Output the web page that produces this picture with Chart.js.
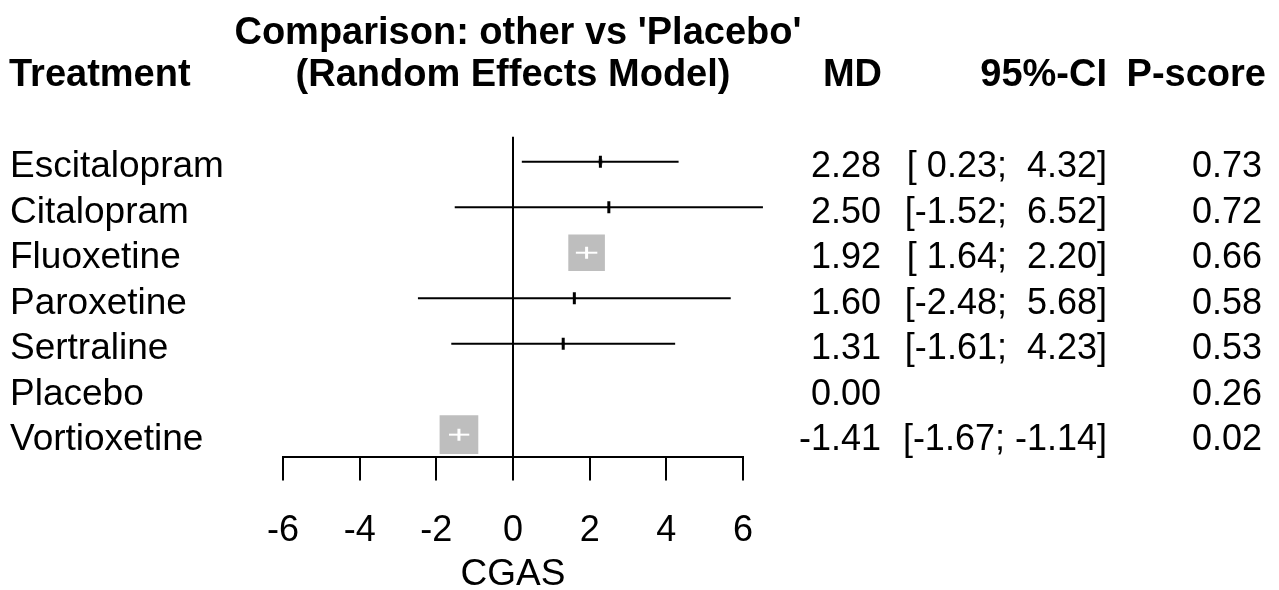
<!DOCTYPE html>
<html>
<head>
<meta charset="utf-8">
<script src="https://cdn.jsdelivr.net/npm/chart.js@4.4.0/dist/chart.umd.min.js"></script>
<style>
  html, body { margin: 0; padding: 0; background: #fff; overflow: hidden; }
  #wrap { width: 1279px; height: 590px; }
</style>
</head>
<body>
<div id="wrap"><canvas id="chart" width="1279" height="590"></canvas></div>
<script>
// Network meta-analysis forest plot, other vs 'Placebo', random effects.
const treatments = ["Escitalopram", "Citalopram", "Fluoxetine", "Paroxetine", "Sertraline", "Placebo", "Vortioxetine"];
const md = [2.28, 2.50, 1.92, 1.60, 1.31, 0.00, -1.41];
const ciLow = [0.23, -1.52, 1.64, -2.48, -1.61, null, -1.67];
const ciHigh = [4.32, 6.52, 2.20, 5.68, 4.23, null, -1.14];
const pScore = [0.73, 0.72, 0.66, 0.58, 0.53, 0.26, 0.02];
const xTicks = [-6, -4, -2, 0, 2, 4, 6];
const titleLines = ["Comparison: other vs 'Placebo'", "(Random Effects Model)"];
const xLabel = "CGAS";

const FONT = '"Liberation Sans", Arial, sans-serif';
const BOX_GREY = "#bebebe";

// square side (px) goes with precision, i.e. inverse of the CI width
const boxSide = (i) => 20.5 / (ciHigh[i] - ciLow[i]);

// CI line is drawn white when it sits fully inside its grey square
function insideBox(chart, i) {
  const x = chart.scales.x;
  const ciPx = x.getPixelForValue(ciHigh[i]) - x.getPixelForValue(ciLow[i]);
  return ciPx < boxSide(i);
}

const rows = treatments.map((t, i) => i).filter((i) => ciLow[i] !== null);

const squares = {
  type: "scatter",
  order: 3,
  data: rows.map((i) => ({ x: md[i], y: i })),
  pointStyle: "rect",
  pointRadius: rows.map((i) => boxSide(i) / Math.SQRT2),
  pointBackgroundColor: BOX_GREY,
  pointBorderWidth: 0,
  pointHoverRadius: rows.map((i) => boxSide(i) / Math.SQRT2),
};

const ciLines = rows.map((i) => ({
  type: "line",
  order: 2,
  data: [{ x: ciLow[i], y: i }, { x: ciHigh[i], y: i }],
  borderColor: (ctx) => (insideBox(ctx.chart, i) ? "#ffffff" : "#000000"),
  borderWidth: 2,
  pointRadius: 0,
  clip: false,
}));

const estimates = {
  type: "scatter",
  order: 1,
  data: rows.map((i) => ({ x: md[i], y: i })),
  pointStyle: "line",
  rotation: 90,
  pointRadius: 6,
  pointHoverRadius: 6,
  pointBorderWidth: 3,
  pointBorderColor: (ctx) => (insideBox(ctx.chart, rows[ctx.dataIndex]) ? "#ffffff" : "#000000"),
};

const zeroLine = {
  type: "line",
  order: 4,
  data: [{ x: 0, y: -0.55 }, { x: 0, y: treatments.length - 0.5 }],
  borderColor: "#000",
  borderWidth: 2,
  pointRadius: 0,
  clip: false,
};

const fmt = (v) => v.toFixed(2);
const pad5 = (v) => (v < 0 ? "" : " ") + fmt(v);

// row labels, columns and headings around the plot
const textPlugin = {
  id: "forestText",
  afterDraw(chart) {
    const c = chart.ctx;
    const y = chart.scales.y;
    const mid = (chart.chartArea.left + chart.chartArea.right) / 2;
    c.save();
    c.fillStyle = "#000";
    c.textBaseline = "alphabetic";
    c.font = "bold 38px " + FONT;
    c.textAlign = "center";
    c.fillText(titleLines[0], mid + 5, 44);
    c.fillText(titleLines[1], mid, 86);
    c.textAlign = "left";
    c.fillText("Treatment", 9, 86);
    c.textAlign = "right";
    c.fillText("MD", 882, 86);
    c.fillText("95%-CI", 1107, 86);
    c.fillText("P-score", 1266, 86);

    treatments.forEach((t, i) => {
      const py = y.getPixelForValue(i) + 15.5;
      c.font = "37px " + FONT;
      c.textAlign = "left";
      c.fillText(t, 10, py);
      c.font = "36px " + FONT;
      c.textAlign = "right";
      c.fillText(fmt(md[i]), 881, py);
      if (ciLow[i] !== null) c.fillText("[" + pad5(ciLow[i]) + "; " + pad5(ciHigh[i]) + "]", 1107, py);
      c.fillText(fmt(pScore[i]), 1262, py);
    });
    c.restore();
  },
};

new Chart(document.getElementById("chart"), {
  data: { datasets: [squares, ...ciLines, estimates, zeroLine] },
  plugins: [textPlugin],
  options: {
    responsive: false,
    animation: false,
    devicePixelRatio: 1,
    events: [],
    layout: { padding: { left: 283, right: 536, top: 139, bottom: -7 } },
    plugins: { legend: { display: false }, tooltip: { enabled: false } },
    scales: {
      x: {
        type: "linear",
        min: xTicks[0],
        max: xTicks[xTicks.length - 1],
        afterBuildTicks: (s) => { s.ticks = xTicks.map((v) => ({ value: v })); },
        border: { display: true, color: "#000", width: 2 },
        grid: { drawOnChartArea: false, drawTicks: true, tickLength: 23, color: "#000", lineWidth: 2 },
        ticks: { color: "#000", font: { family: FONT, size: 36 }, padding: 29, maxRotation: 0, autoSkip: false },
        title: { display: true, text: xLabel, color: "#000", font: { family: FONT, size: 37 }, padding: { top: -29, bottom: 0 } },
      },
      y: { type: "linear", min: -0.5, max: treatments.length - 0.5, reverse: true, display: false },
    },
  },
});
</script>
</body>
</html>
